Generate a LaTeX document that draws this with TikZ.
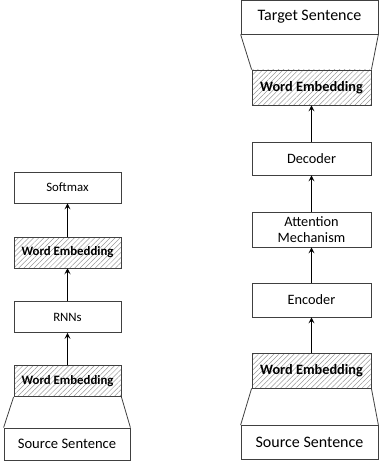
\documentclass[tikz,border=0pt]{standalone}
\usepackage{fontspec}
\setmainfont{Carlito}
\usetikzlibrary{arrows.meta,patterns.meta}
\tikzset{
  box/.style={draw=black!75, line width=0.8pt, fill=white, inner sep=0pt, align=center},
  hatch/.style={box, pattern={Lines[angle=45,distance=3.6pt,line width=0.5pt]}, pattern color=black!40},
  lbox/.style={box, minimum width=107pt, minimum height=31pt, font=\fontsize{12.8}{14}\selectfont},
  rbox/.style={box, minimum width=119pt, minimum height=34pt, font=\fontsize{14.3}{16.5}\selectfont},
  lsent/.style={box, minimum width=126pt, minimum height=32pt, font=\fontsize{14.6}{16}\selectfont},
  rsent/.style={box, minimum width=137pt, minimum height=34pt, font=\fontsize{16}{18}\selectfont},
  conn/.style={draw=black, line width=1pt, -{Stealth[length=6pt,width=6pt,inset=2.5pt]}},
  flare/.style={draw=black!75, line width=0.8pt}
}
\begin{document}
\begin{tikzpicture}[x=1pt,y=-1pt]
\useasboundingbox (0,0) rectangle (379,465);
% left column
\node[lbox] (soft) at (67.5,187.5) {Softmax};
\node[lbox,hatch] (weL2) at (67.5,252.5) {\bfseries Word Embedding};
\node[lbox] (rnn) at (67.5,317) {RNNs};
\node[lbox,hatch] (weL1) at (67.5,381) {\bfseries Word Embedding};
\node[lsent] (srcL) at (67,444) {Source Sentence};
\draw[flare] (weL1.south west) -- (srcL.north west);
\draw[flare] (weL1.south east) -- (srcL.north east);
\draw[conn] (weL1) -- (rnn);
\draw[conn] (rnn) -- (weL2);
\draw[conn] (weL2) -- (soft);
% right column
\node[rsent] (tgt) at (309.5,17) {Target Sentence};
\node[rbox,hatch,minimum height=35pt] (weR2) at (311.5,87.5) {\bfseries Word Embedding};
\node[rbox,minimum height=33pt] (dec) at (311.5,158.5) {Decoder};
\node[rbox,minimum height=35pt] (att) at (311.5,229.5) {Attention\\Mechanism};
\node[rbox] (enc) at (311.5,300) {Encoder};
\node[rbox,hatch,minimum height=35pt] (weR1) at (311.5,370.5) {\bfseries Word Embedding};
\node[rsent] (srcR) at (309.5,442.5) {Source Sentence};
\draw[flare] (weR1.south west) -- (srcR.north west);
\draw[flare] (weR1.south east) -- (srcR.north east);
\draw[flare] (tgt.south west) -- (weR2.north west);
\draw[flare] (tgt.south east) -- (weR2.north east);
\draw[conn] (weR1) -- (enc);
\draw[conn] (enc) -- (att);
\draw[conn] (att) -- (dec);
\draw[conn] (dec) -- (weR2);
\end{tikzpicture}
\end{document}
